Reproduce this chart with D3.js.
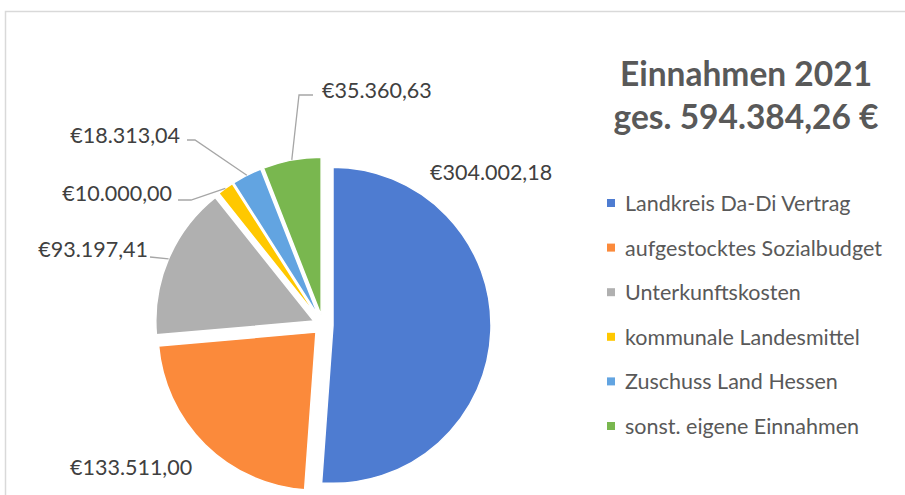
<!DOCTYPE html>
<html lang="de">
<head>
<meta charset="UTF-8">
<script src="https://d3js.org/d3.v7.min.js"></script>
<title>Einnahmen 2021</title>
<style>
  body { margin: 0; background: #fff; }
  text { font-family: Lato, "Open Sans", sans-serif; }
</style>
</head>
<body>
<script>
// Data
const categories = [
    'Landkreis Da-Di Vertrag',
    'aufgestocktes Sozialbudget',
    'Unterkunftskosten',
    'kommunale Landesmittel',
    'Zuschuss Land Hessen',
    'sonst. eigene Einnahmen'
];
const values = [304002.18, 133511.00, 93197.41, 10000.00, 18313.04, 35360.63];
const colors = ['#4e7cd1', '#fb8a3b', '#b0b0b0', '#ffc800', '#62a4e1', '#79b74f'];
const titleLines = ['Einnahmen 2021', 'ges. 594.384,26 €'];

// German currency format, e.g. €304.002,18
const de = d3.formatLocale({decimal: ',', thousands: '.', grouping: [3], currency: ['€', '']});
const fmt = de.format('$,.2f');

const width = 905, height = 495;
const cx = 323, cy = 325, radius = 158, explode = 10;

const svg = d3.select('body').append('svg')
    .attr('width', width)
    .attr('height', height);

// chart frame
svg.append('rect')
    .attr('x', 5.5).attr('y', 11.5)
    .attr('width', width + 20).attr('height', height + 20)
    .attr('fill', 'none')
    .attr('stroke', '#d9d9d9')
    .attr('stroke-width', 1.5);

const pie = d3.pie().sort(null).value(d => d);
const arcs = pie(values);
const arc = d3.arc().innerRadius(0).outerRadius(radius);

const g = svg.append('g').attr('transform', `translate(${cx},${cy})`);

function offset(d, r) {
    const a = (d.startAngle + d.endAngle) / 2;
    return [r * Math.sin(a), -r * Math.cos(a)];
}

g.selectAll('path.slice')
    .data(arcs)
    .enter().append('path')
    .attr('class', 'slice')
    .attr('d', arc)
    .attr('fill', (d, i) => colors[i])
    .attr('stroke', '#fff')
    .attr('stroke-width', 1.5)
    .attr('transform', d => `translate(${offset(d, explode)})`);

// label layout (relative to pie centre): text anchor point, optional leader elbow + end
const labelLayout = [
    {x: 107, y: -153, anchor: 'start'},
    {x: -253, y: 142, anchor: 'start'},
    {x: -175, y: -76, anchor: 'end', elbow: null, end: [-173, -68]},
    {x: -151, y: -132, anchor: 'end', elbow: [-132, -125], end: [-145, -125]},
    {x: -143, y: -190, anchor: 'end', elbow: [-128, -185], end: [-136, -185]},
    {x: -1, y: -235, anchor: 'start', elbow: [-24, -230], end: [-10, -230]}
];

arcs.forEach((d, i) => {
    const L = labelLayout[i];
    if (L.end) {
        const p0 = offset(d, radius + explode);
        const pts = [p0];
        if (L.elbow) pts.push(L.elbow);
        pts.push(L.end);
        g.append('path')
            .attr('d', d3.line()(pts))
            .attr('fill', 'none')
            .attr('stroke', '#a6a6a6')
            .attr('stroke-width', 1.3);
    }
    g.append('text')
        .attr('x', L.x).attr('y', L.y)
        .attr('text-anchor', L.anchor)
        .attr('dominant-baseline', 'central')
        .attr('font-size', 21.5)
        .attr('fill', '#404040')
        .text(fmt(values[i]));
});

// title
svg.append('g').selectAll('text')
    .data(titleLines)
    .enter().append('text')
    .attr('x', 746)
    .attr('y', (d, i) => 86 + i * 43)
    .attr('text-anchor', 'middle')
    .attr('font-size', 33.5)
    .attr('font-weight', 'bold')
    .attr('fill', '#595959')
    .text(d => d);

// legend
const legend = svg.append('g').attr('transform', 'translate(607,203)');
const item = legend.selectAll('g')
    .data(categories)
    .enter().append('g')
    .attr('transform', (d, i) => `translate(0,${i * 44.6})`);
item.append('rect')
    .attr('x', 0).attr('y', -4)
    .attr('width', 8).attr('height', 8)
    .attr('fill', (d, i) => colors[i]);
item.append('text')
    .attr('x', 18)
    .attr('y', 0)
    .attr('dominant-baseline', 'central')
    .attr('font-size', 21.5)
    .attr('fill', '#595959')
    .text(d => d);
</script>
</body>
</html>
